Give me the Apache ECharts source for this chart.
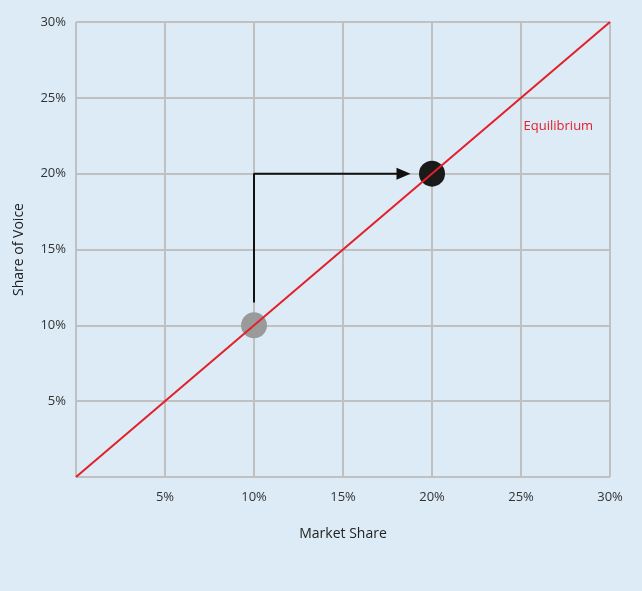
<!DOCTYPE html>
<html><head><meta charset="utf-8">
<script src="https://cdn.jsdelivr.net/npm/echarts@6/dist/echarts.min.js"></script>
<style>html,body{margin:0;background:#dcebf5;}#c{width:642px;height:591px;}</style>
</head><body><div id="c"></div>
<script>
const ticks = [0, 5, 10, 15, 20, 25, 30];
const equilibrium = [[0, 0], [30, 30]];
const startPoint = [10, 10];
const endPoint = [20, 20];
const arrowPath = [[10, 11.5], [10, 20], [18.3, 20]];
const arrowHead = [18.4, 20];
const fmt = v => v === 0 ? '' : v + '%';
const chart = echarts.init(document.getElementById('c'));
chart.setOption({
  backgroundColor: '#dcebf5',
  animation: false,
  grid: {left: 76, right: 32, top: 22, bottom: 114},
  xAxis: {type: 'value', min: 0, max: 30, interval: 5, name: 'Market Share', nameLocation: 'middle', nameGap: 50,
    nameTextStyle: {fontFamily: 'Open Sans', fontSize: 14, color: '#222'},
    axisLine: {show: false}, axisTick: {show: false},
    axisLabel: {formatter: fmt, fontFamily: 'Open Sans', fontSize: 13, color: '#333', margin: 14},
    splitLine: {lineStyle: {color: '#c0c0c0', width: 2}}},
  yAxis: {type: 'value', min: 0, max: 30, interval: 5, name: 'Share of Voice', nameLocation: 'middle', nameGap: 50,
    nameTextStyle: {fontFamily: 'Open Sans', fontSize: 14, color: '#222'},
    axisLine: {show: false}, axisTick: {show: false},
    axisLabel: {formatter: fmt, fontFamily: 'Open Sans', fontSize: 13, color: '#333', margin: 10},
    splitLine: {lineStyle: {color: '#c0c0c0', width: 2}}},
  series: [
    {type: 'line', data: equilibrium, symbol: 'none', lineStyle: {color: '#e3202a', width: 2},
     markPoint: {symbol: 'circle', symbolSize: 0, data: [{coord: [27.1, 23.1], label: {show: true, position: 'inside', formatter: 'Equilibrium', color: '#e3202a', fontFamily: 'Open Sans', fontSize: 13}}]}},
    {type: 'line', data: arrowPath, symbol: 'none', lineStyle: {color: '#111', width: 2}},
    {type: 'scatter', data: [arrowHead], symbol: 'triangle', symbolRotate: -90, symbolSize: [12, 14], itemStyle: {color: '#111', opacity: 1}},
    {type: 'scatter', data: [startPoint], symbolSize: 26, itemStyle: {color: '#9a9a9a', opacity: 1}},
    {type: 'scatter', data: [endPoint], symbolSize: 26, itemStyle: {color: '#1a1a1a', opacity: 1}}
  ]
});
</script></body></html>
